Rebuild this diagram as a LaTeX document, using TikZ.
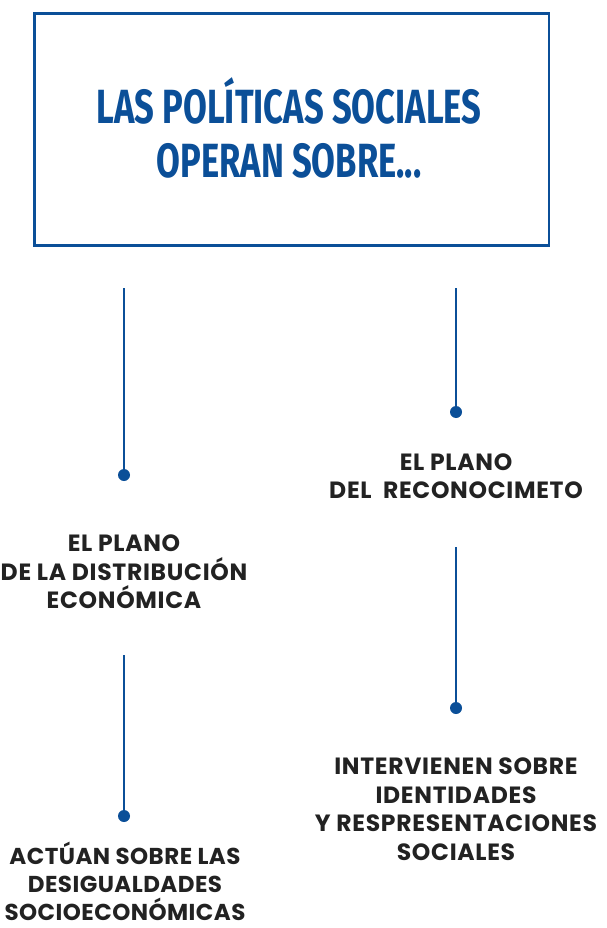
\documentclass[tikz,border=0pt]{standalone}
\usepackage{fontspec}
\usepackage{graphicx}
\setmainfont{Poppins}
\newfontfamily\titlefont{Fira Sans}
\usetikzlibrary{calc}
\definecolor{polblue}{HTML}{0B4F98}
\definecolor{polgray}{HTML}{222222}
\tikzset{
  titlebox/.style={draw=polblue,line width=2.3pt},
  stem/.style={draw=polblue,line width=2pt},
  tip/.style={circle,fill=polblue,inner sep=0pt,minimum size=12pt},
  label/.style={text=polgray,align=center,inner sep=0pt,
    font=\bfseries\fontsize{23.5}{28.5}\selectfont\addfontfeature{LetterSpace=3}},
  tightlabel/.style={label,text depth=0pt,
    font=\bfseries\fontsize{23}{28}\selectfont\addfontfeature{LetterSpace=2}},
  headline/.style={text=polblue,align=center,inner sep=0pt,
    font=\titlefont\bfseries\fontsize{48}{54}\selectfont}
}

\begin{document}
\begin{tikzpicture}[x=1pt,y=-1pt]
\useasboundingbox (0,0) rectangle (606,928);
%box
\draw[titlebox](34.5,13.5)rectangle(549,245.5);
\node[headline](head)at(289,128){\scalebox{0.72}[1]{LAS POLÍTICAS SOCIALES}\\\scalebox{0.72}[1]{OPERAN SOBRE...}};
%stems
\coordinate(ltop)at(124,288);
\coordinate(rtop)at(456,288);
\coordinate(lmid)at(124,655);
\coordinate(rmid)at(456,547);
\node[tip](ldot)at(124,475){};
\node[tip](rdot)at(456,412){};
\node[tip](ldotb)at(124,816){};
\node[tip](rdotb)at(456,708){};
\draw[stem](ltop)--(ldot.center);
\draw[stem](rtop)--(rdot.center);
\draw[stem](lmid)--(ldotb.center);
\draw[stem](rmid)--(rdotb.center);
%labels
\node[label](ldist)at(124,572){EL PLANO\\DE LA DISTRIBUCIÓN\\ECONÓMICA};
\node[label](rrec)at(456,476){EL PLANO\\DEL\ \ RECONOCIMETO};
\node[tightlabel](lact)at(125,881){ACTÚAN SOBRE LAS\\DESIGUALDADES\\SOCIOECONÓMICAS};
\node[label](rint)at(456,809){INTERVIENEN SOBRE\\IDENTIDADES\\Y RESPRESENTACIONES\\SOCIALES};
\end{tikzpicture}
\end{document}
